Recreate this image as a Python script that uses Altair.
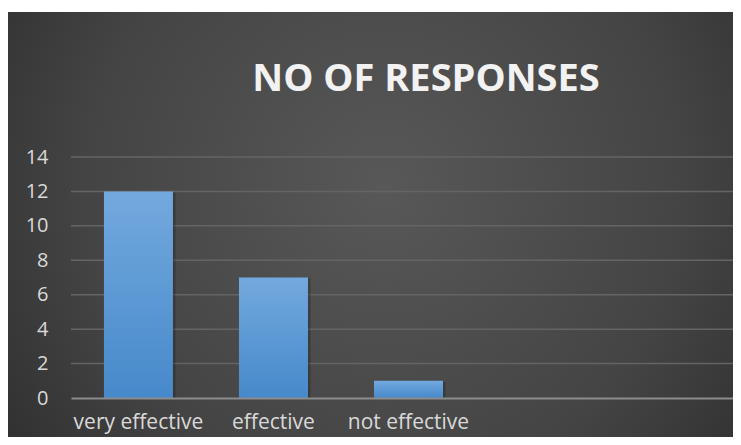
import altair as alt
import pandas as pd

categories = ["very effective", "effective", "not effective"]
responses = [12, 7, 1]
empty_slots = ["", " "]
y_ticks = [0, 2, 4, 6, 8, 10, 12, 14]
title_text = "NO OF RESPONSES"

df = pd.DataFrame({"category": categories, "responses": responses})
grid_df = pd.DataFrame({"responses": y_ticks[1:]})
one = pd.DataFrame({"k": [0]})

bg_gradient = alt.RadialGradient(
    gradient="radial",
    x1=0.52, y1=0.45, r1=0.0,
    x2=0.52, y2=0.45, r2=0.75,
    stops=[
        alt.GradientStop(offset=0, color="#585858"),
        alt.GradientStop(offset=0.55, color="#444444"),
        alt.GradientStop(offset=1, color="#262626"),
    ],
)

bar_gradient = alt.LinearGradient(
    gradient="linear", x1=0, y1=0, x2=0, y2=1,
    stops=[
        alt.GradientStop(offset=0, color="#73a9de"),
        alt.GradientStop(offset=1, color="#4689ca"),
    ],
)

y_scale = alt.Scale(domain=[0, 14], nice=False)
y_axis = alt.Axis(title=None, values=y_ticks, ticks=False, domain=False,
                  grid=False, labelPadding=23, labelFontSize=20, zindex=1)

background = alt.Chart(one).mark_rect(fill=bg_gradient).encode(
    x=alt.value(-63), x2=alt.value(662), y=alt.value(-145), y2=alt.value(280)
)

gridlines = alt.Chart(grid_df).mark_rule(color="#646464", strokeWidth=1.5).encode(
    y=alt.Y("responses:Q", scale=y_scale, axis=y_axis)
)

x_enc = alt.X(
    "category:N",
    sort=categories,
    scale=alt.Scale(domain=categories + empty_slots, range=[0, 675],
                    paddingInner=0.489, paddingOuter=0.244),
    axis=alt.Axis(title=None, labelAngle=0, ticks=False, domainColor="#8c8c8c",
                  domainWidth=2, labelPadding=13, labelFontSize=21, grid=False, zindex=1),
)
y_enc = alt.Y("responses:Q", scale=y_scale, axis=y_axis)

shadow = alt.Chart(df).mark_bar(color="#111111", opacity=0.25, xOffset=2.5, yOffset=1).encode(
    x=x_enc, y=y_enc
)
bars = alt.Chart(df).mark_bar(fill=bar_gradient).encode(x=x_enc, y=y_enc)

title = alt.Chart(one).mark_text(
    text=title_text, font="Open Sans", fontSize=38, fontWeight="bold",
    color="#f2f2f2", align="center", baseline="alphabetic",
).encode(x=alt.value(355), y=alt.value(-66))

chart = alt.layer(background, gridlines, shadow, bars, title).properties(
    width=662, height=241,
    autosize=alt.AutoSizeParams(type="none"),
    padding={"left": 63, "top": 149, "right": 0, "bottom": 39},
    background="white",
).configure_view(stroke=None).configure_axis(
    labelFont="Open Sans", labelColor="#d9d9d9",
)

chart.save("out.html", embed_options={"renderer": "svg", "actions": False})
